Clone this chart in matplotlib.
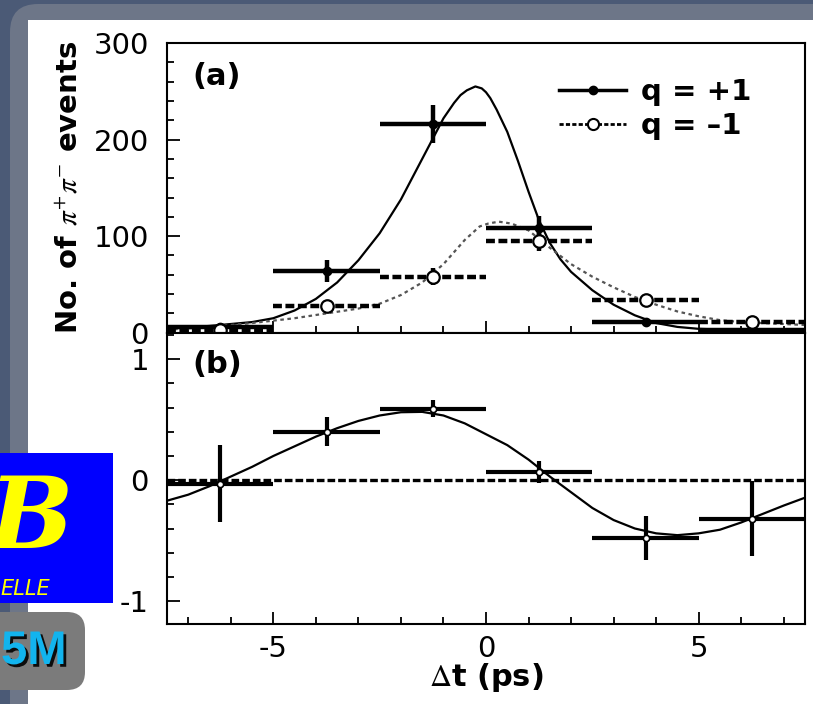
import matplotlib.pyplot as plt
import matplotlib.patheffects as pe
from matplotlib.patches import FancyBboxPatch, Rectangle
from matplotlib.lines import Line2D
from matplotlib.ticker import MultipleLocator

plt.rcParams['font.family'] = ['DejaVu Sans']
plt.rcParams['axes.unicode_minus'] = False
plt.rcParams['mathtext.fontset'] = 'stix'

# --- data ---
# bins of 2.5 ps, centres
t_bins = [-6.25, -3.75, -1.25, 1.25, 3.75, 6.25]
half_bin = 1.25

# (a) event counts
n_pos = [6, 64, 216, 108, 11, 3]
n_pos_err = [3, 11, 20, 13, 3, 2]
n_neg = [3, 28, 58, 95, 34, 11]
n_neg_err = [2, 5, 9, 10, 5, 3]

# (a) fit curves
fit_t_pos = [-7.5, -6.5, -5.5, -5.0, -4.5, -4.0, -3.5, -3.0, -2.5, -2.0, -1.5,
             -1.0, -0.75, -0.6, -0.45, -0.25, -0.1, 0.0, 0.1, 0.25, 0.5, 0.75,
             1.0, 1.25, 1.5, 1.75, 2.0, 2.5, 3.0, 3.5, 4.0, 4.5, 5.0, 6.0, 7.5]
fit_n_pos = [4, 7, 11, 15, 23, 35, 52, 75, 103, 138, 180,
             222, 238, 246, 251, 255, 253, 249, 243, 231, 208, 178,
             146, 116, 93, 76, 63, 44, 29, 18, 10, 6, 4, 2.5, 1.5]
fit_t_neg = [-7.5, -6.5, -5.5, -4.5, -3.75, -3.0, -2.5, -2.0, -1.5, -1.0, -0.5,
             -0.15, 0.05, 0.3, 0.6, 1.0, 1.5, 2.0, 2.5, 3.0, 3.5, 4.0, 4.5,
             5.0, 5.5, 6.0, 6.5, 7.0, 7.5]
fit_n_neg = [3, 6, 10, 15, 20, 25, 30, 39, 52, 71, 96,
             110, 113, 115, 113, 106, 88, 71, 58, 47, 37, 29, 22,
             17, 13, 11, 10, 9, 8]

# (b) asymmetry
asym = [-0.03, 0.40, 0.59, 0.07, -0.48, -0.32]
asym_err = [0.32, 0.12, 0.07, 0.09, 0.18, 0.31]
fit_t_asym = [-7.5, -7.0, -6.5, -6.0, -5.5, -5.0, -4.5, -4.0, -3.5, -3.0, -2.5,
              -2.0, -1.5, -1.0, -0.5, 0.0, 0.5, 1.0, 1.5, 2.0, 2.5, 3.0, 3.5,
              4.0, 4.5, 5.0, 5.5, 6.0, 6.5, 7.0, 7.5]
fit_asym = [-0.17, -0.12, -0.05, 0.03, 0.11, 0.20, 0.28, 0.36, 0.43, 0.49, 0.535,
            0.562, 0.565, 0.535, 0.47, 0.38, 0.29, 0.17, 0.03, -0.10, -0.23, -0.33, -0.40,
            -0.44, -0.455, -0.44, -0.41, -0.35, -0.28, -0.21, -0.145]

legend_labels = ['q = +1', 'q = \u20131']

W, H = 813, 704
fig = plt.figure(figsize=(W / 100, H / 100), dpi=100)
fig.patch.set_facecolor('#4b5a76')

# slide background, logo and badge
bg = fig.add_axes([0, 0, 1, 1], zorder=0)
bg.set_xlim(0, W)
bg.set_ylim(H, 0)
bg.axis('off')
bg.add_patch(FancyBboxPatch((10, 4), 1000, 1000, boxstyle='round,pad=0,rounding_size=28',
                            fc='#6d7688', ec='none'))
bg.add_patch(Rectangle((28, 20), 900, 800, fc='white', ec='none'))
logo = Rectangle((0, 453), 113, 150, fc='#0000ff', ec='none')
bg.add_patch(logo)
tb = bg.text(-12, 548, 'B', color='#ffff00', fontsize=72, fontstyle='italic',
             family='DejaVu Serif', fontweight='bold', va='baseline')
tb.set_clip_path(logo)
te = bg.text(0, 595, 'ELLE', color='#ffff00', fontsize=15, fontstyle='italic', va='baseline')
te.set_clip_path(logo)
bg.add_patch(FancyBboxPatch((-30, 612), 115, 78, boxstyle='round,pad=0,rounding_size=18',
                            fc='#7b7b7b', ec='none'))
bg.text(1, 652, '5M', color='#12b4ee', fontsize=34, fontweight='bold', family='Liberation Sans',
        ha='left', va='center',
        path_effects=[pe.withSimplePatchShadow(offset=(2, -2), shadow_rgbFace='black', alpha=0.9)])

ax_a = fig.add_axes([167 / W, 1 - 332.7 / H, 638 / W, (332.7 - 43) / H], zorder=2)
ax_b = fig.add_axes([167 / W, 1 - 624 / H, 638 / W, (624 - 332.7) / H], zorder=2)

# --- (a) ---
ax_a.plot(fit_t_pos, fit_n_pos, color='k', lw=1.6)
ax_a.plot(fit_t_neg, fit_n_neg, color='#555555', lw=1.6, ls=(0, (1.6, 1.6)))
ax_a.errorbar(t_bins, n_pos, xerr=half_bin, yerr=n_pos_err, fmt='o', color='k',
              ms=6, elinewidth=3.2, capsize=0)
e2 = ax_a.errorbar(t_bins, n_neg, xerr=half_bin, yerr=n_neg_err, fmt='o', color='k',
                   mfc='white', mec='k', mew=1.6, ms=9, elinewidth=3.2, capsize=0)
e2[2][0].set_linestyle((0, (2, 0.8)))
ax_a.set_xlim(-7.5, 7.5)
ax_a.set_ylim(0, 300)
ax_a.yaxis.set_major_locator(MultipleLocator(100))
ax_a.yaxis.set_minor_locator(MultipleLocator(20))
ax_a.set_ylabel(r'No. of $\pi^{+}\pi^{-}$ events', fontsize=21, fontweight='bold')
ax_a.yaxis.set_label_coords(-0.132, 0.5)
ax_a.text(0.039, 0.935, '(a)', transform=ax_a.transAxes, fontsize=22,
          fontweight='bold', va='top', ha='left')

handles = [Line2D([], [], color='k', lw=2.5, marker='o', ms=6),
           Line2D([], [], color='k', lw=2.0, ls=(0, (1.5, 0.8)), marker='o',
                  mfc='white', mew=1.5, ms=8)]
ax_a.legend(handles, legend_labels, loc='upper left', bbox_to_anchor=(0.615, 0.88),
            frameon=False, handlelength=2.3, handletextpad=0.5, labelspacing=0.22,
            borderpad=0, borderaxespad=0, prop={'size': 21, 'weight': 'bold'})

# --- (b) ---
ax_b.plot(fit_t_asym, fit_asym, color='k', lw=1.6)
ax_b.errorbar(t_bins, asym, xerr=half_bin, yerr=asym_err, fmt='o', color='k',
              mfc='white', mec='k', mew=1.2, ms=4.5, elinewidth=3.0, capsize=0)
ax_b.axhline(0, color='k', lw=2.4, ls=(0, (2.3, 0.9)), zorder=3)
ax_b.set_xlim(-7.5, 7.5)
ax_b.set_ylim(-1.19, 1.22)
ax_b.yaxis.set_major_locator(MultipleLocator(1))
ax_b.yaxis.set_minor_locator(MultipleLocator(0.2))
ax_b.set_xlabel(r'$\Delta$t (ps)', fontsize=22, fontweight='bold')
ax_b.xaxis.set_label_coords(0.5, -0.128)
ax_b.text(0.039, 0.94, '(b)', transform=ax_b.transAxes, fontsize=22,
          fontweight='bold', va='top', ha='left')

for ax in (ax_a, ax_b):
    ax.xaxis.set_major_locator(MultipleLocator(5))
    ax.xaxis.set_minor_locator(MultipleLocator(1))
    ax.tick_params(which='both', direction='in', top=False, right=False, width=1.3)
    ax.tick_params(which='major', length=9)
    ax.tick_params(which='minor', length=5)
    ax.tick_params(axis='y', labelsize=21, pad=13)
    ax.tick_params(axis='x', labelsize=21, pad=8)
    for s in ax.spines.values():
        s.set_linewidth(1.5)
ax_a.tick_params(labelbottom=False)

fig.savefig('out.png', dpi=100, facecolor=fig.get_facecolor())
